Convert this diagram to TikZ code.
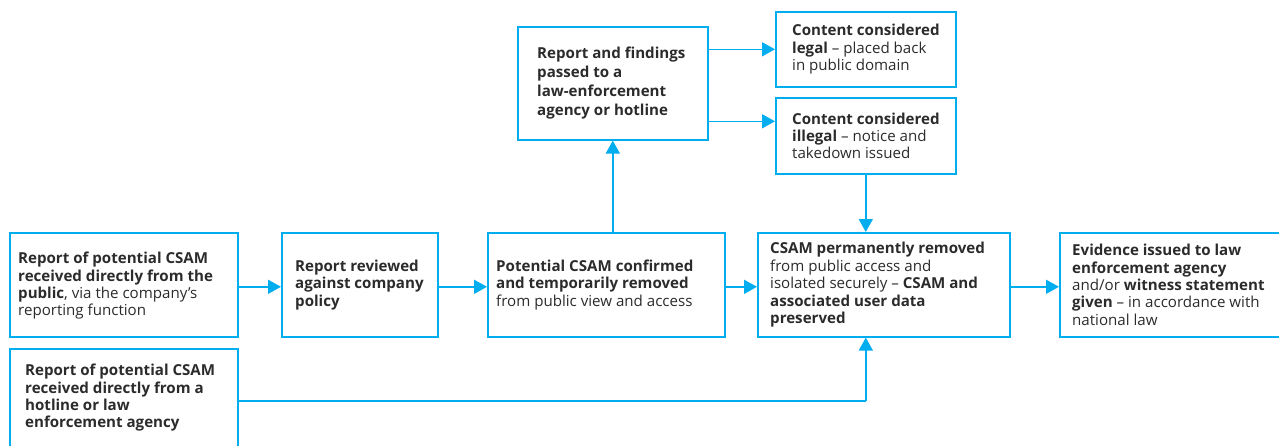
\documentclass[tikz,border=0pt]{standalone}
\usepackage{fontspec}
\setmainfont{Open Sans}
\usetikzlibrary{arrows.meta}
\definecolor{cy}{HTML}{00AEEF}
\definecolor{tx}{HTML}{2B2B2B}
\tikzset{
  box/.style={draw=cy, line width=1.6pt, anchor=north west, inner sep=0pt},
  lbl/.style={anchor=west, align=left, text=tx, inner sep=0pt,
    font=\fontsize{15.1}{17.4}\selectfont},
  arr/.style={draw=cy, line width=1.6pt, -{Triangle[length=13pt,width=14pt]}},
  ln/.style={draw=cy, line width=1.6pt}
}
\begin{document}
\begin{tikzpicture}[x=1pt,y=-1pt]
\useasboundingbox (0,0) rectangle (1279,445);
\clip (0,0) rectangle (1279,445);
% boxes
\node[box, minimum width=228pt, minimum height=104pt] (A) at (9,232) {};
\node[box, minimum width=156pt, minimum height=104pt] (B) at (281,232) {};
\node[box, minimum width=237pt, minimum height=104pt] (C) at (487,232) {};
\node[box, minimum width=252pt, minimum height=104pt] (D) at (757,232) {};
\node[box, minimum width=240pt, minimum height=104pt] (E) at (1059,232) {};
\node[box, minimum width=228pt, minimum height=104pt] (F) at (9,348) {};
\node[box, minimum width=190pt, minimum height=113pt] (G) at (517,26) {};
\node[box, minimum width=180pt, minimum height=75pt] (H) at (775,11) {};
\node[box, minimum width=180pt, minimum height=76pt] (I) at (775,97) {};
% labels
\node[lbl] (At) at ([xshift=9pt,yshift=-1pt]A.west)
 {\textbf{Report of potential CSAM}\\\textbf{received directly from the}\\\textbf{public}, via the company’s\\reporting function};
\node[lbl] (Bt) at ([xshift=14pt]B.west)
 {\textbf{Report reviewed}\\\textbf{against company}\\\textbf{policy}};
\node[lbl] (Ct) at ([xshift=9pt]C.west)
 {\textbf{Potential CSAM confirmed}\\\textbf{and temporarily removed}\\from public view and access};
\node[lbl] (Dt) at ([xshift=13pt]D.west)
 {\textbf{CSAM permanently removed}\\from public access and\\isolated securely – \textbf{CSAM and}\\\textbf{associated user data}\\\textbf{preserved}};
\node[lbl] (Et) at ([xshift=13pt]E.west)
 {\textbf{Evidence issued to law}\\\textbf{enforcement agency}\\and/or \textbf{witness statement}\\\textbf{given} – in accordance with\\national law};
\node[lbl] (Ft) at ([xshift=16pt,yshift=3pt]F.west)
 {\textbf{Report of potential CSAM}\\\textbf{received directly from a}\\\textbf{hotline or law}\\\textbf{enforcement agency}};
\node[lbl, font=\fontsize{15.1}{19}\selectfont] (Gt) at ([xshift=20pt]G.west)
 {\textbf{Report and findings}\\\textbf{passed to a}\\\textbf{law-enforcement}\\\textbf{agency or hotline}};
\node[lbl] (Ht) at ([xshift=17pt]H.west)
 {\textbf{Content considered}\\\textbf{legal} – placed back\\in public domain};
\node[lbl] (It) at ([xshift=17pt]I.west)
 {\textbf{Content considered}\\\textbf{illegal} – notice and\\takedown issued};
% connectors
\draw[arr] ([yshift=-2pt]A.east) -- ([yshift=-2pt]B.west);
\draw[arr] ([yshift=-2pt]B.east) -- ([yshift=-2pt]C.west);
\draw[arr] ([yshift=-2pt]C.east) -- ([yshift=-2pt]D.west);
\draw[arr] ([yshift=-2pt]D.east) -- ([yshift=-2pt]E.west);
\draw[arr] (C.north -| G.south) -- (G.south);
\draw[arr] (G.east |- H.west) -- (H.west);
\coordinate (g2) at ([yshift=-38pt]G.east);
\draw[arr] (g2) -- (g2 -| I.west);
\draw[arr] (I.south) -- (I.south |- D.north);
\coordinate (fcorner) at (F.east -| I.south);
\draw[ln] (F.east) -- (fcorner);
\draw[arr] (fcorner) -- (fcorner |- D.south);
\end{tikzpicture}
\end{document}
